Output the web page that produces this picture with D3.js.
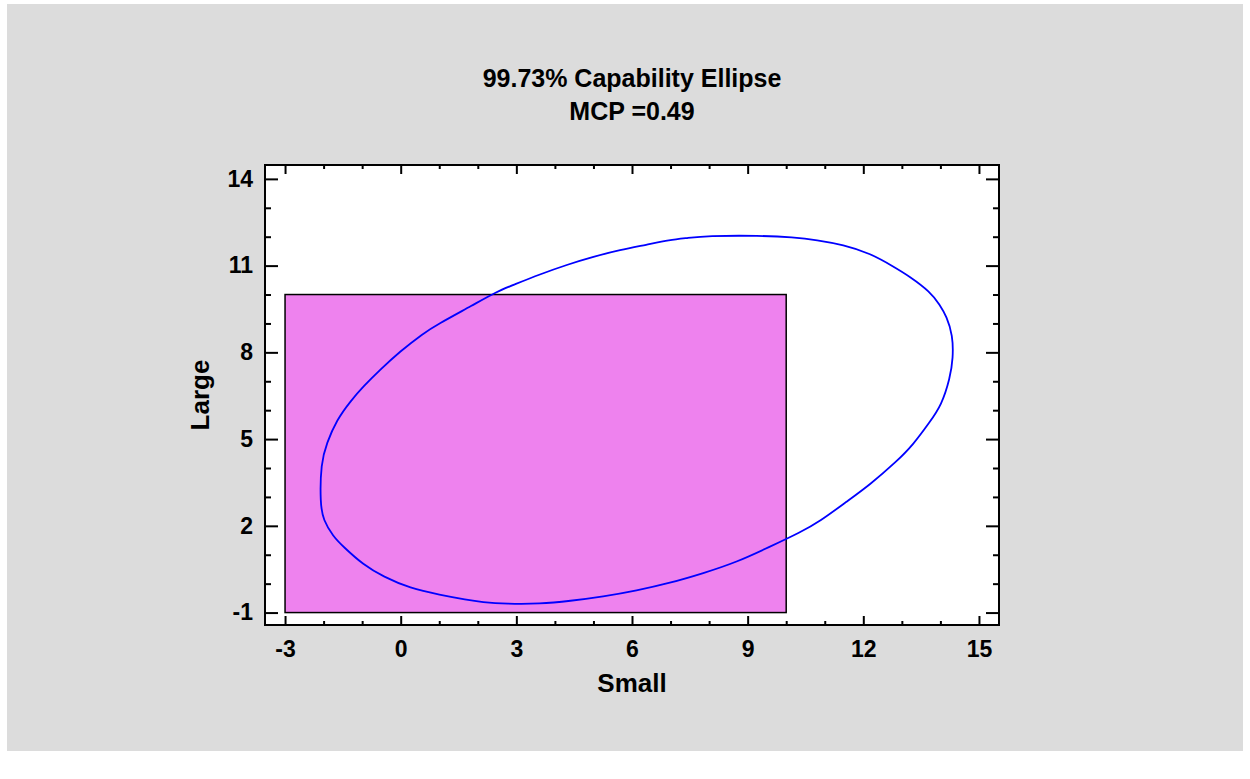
<!DOCTYPE html>
<html>
<head>
<meta charset="utf-8">
<script src="https://cdn.jsdelivr.net/npm/d3@7"></script>
<style>
  body { margin: 0; background: #fff; }
  svg { display: block; font-family: "Liberation Sans", Arial, sans-serif; font-weight: bold; }
</style>
</head>
<body>
<svg id="chart" width="1250" height="779"></svg>
<script>
// tick labels
const xTicks = [-3, 0, 3, 6, 9, 12, 15];
const yTicks = [-1, 2, 5, 8, 11, 14];
const xMinor = [-2, -1, 1, 2, 4, 5, 7, 8, 10, 11, 13, 14];
const yMinor = [0, 1, 3, 4, 6, 7, 9, 10, 12, 13];

// spec limits (Small: LSL, USL; Large: LSL, USL)
const specSmall = [-3, 10];
const specLarge = [-1, 10];

// ellipse outline
const ellipseSmall = [-2.09, -2.07, -1.92, -1.66, -1.31, -0.97, -0.54, -0.02, 0.59, 0.93,
  1.88, 2.49, 2.92, 3.61, 4.31, 5.00, 5.69, 6.38, 6.98, 7.42,
  7.94, 9.32, 10.18, 10.79, 11.48, 12.17, 12.78, 13.21, 13.73, 13.99,
  14.16, 14.32, 14.33, 14.25, 14.03, 13.73, 13.29, 12.86, 12.17, 11.57,
  10.87, 10.36, 9.58, 8.71, 7.85, 6.98, 6.12, 5.25, 4.39, 3.61,
  2.75, 2.10, 1.71, 1.02, 0.24, -0.45, -0.97, -1.49, -1.75, -2.01];
const ellipseLarge = [2.78, 4.17, 4.86, 5.66, 6.30, 6.82, 7.39, 8.03, 8.66, 8.95,
  9.64, 10.10, 10.33, 10.70, 11.03, 11.31, 11.54, 11.72, 11.89, 11.95,
  12.03, 12.04, 11.98, 11.89, 11.72, 11.43, 10.97, 10.62, 10.10, 9.64,
  9.24, 8.60, 7.80, 7.11, 6.18, 5.60, 4.80, 4.22, 3.42, 2.84,
  2.15, 1.77, 1.28, 0.74, 0.36, 0.02, -0.24, -0.45, -0.60, -0.70,
  -0.70, -0.64, -0.56, -0.39, -0.16, 0.24, 0.65, 1.28, 1.63, 2.20];

const svg = d3.select("#chart");

// grey panel
svg.append("rect")
    .attr("x", 7).attr("y", 4)
    .attr("width", 1236).attr("height", 747)
    .attr("fill", "#dcdcdc");

const plotL = 265, plotR = 999, plotT = 165, plotB = 625;

const x = d3.scaleLinear().domain([-3.52, 15.52]).range([plotL, plotR]);
const y = d3.scaleLinear().domain([-1.43, 14.48]).range([plotB, plotT]);

// plot area
svg.append("rect")
    .attr("x", plotL).attr("y", plotT)
    .attr("width", plotR - plotL).attr("height", plotB - plotT)
    .attr("fill", "#fff");

// spec rectangle
svg.append("rect")
    .attr("x", x(specSmall[0]))
    .attr("y", y(specLarge[1]))
    .attr("width", x(specSmall[1]) - x(specSmall[0]))
    .attr("height", y(specLarge[0]) - y(specLarge[1]))
    .attr("fill", "#ee82ee")
    .attr("stroke", "#000")
    .attr("stroke-width", 1.5);

// ellipse
const pts = ellipseSmall.map((d, i) => [d, ellipseLarge[i]]);
const line = d3.line()
    .x(d => x(d[0]))
    .y(d => y(d[1]))
    .curve(d3.curveBasisClosed);

svg.append("path")
    .attr("d", line(pts))
    .attr("fill", "none")
    .attr("stroke", "#0000ff")
    .attr("stroke-width", 1.8);

// axes
function styleAxis(g) {
    g.select(".domain").remove();
    g.selectAll(".tick line").attr("stroke", "#000").attr("stroke-width", 2);
    g.selectAll(".tick text")
        .attr("fill", "#000")
        .style("font-size", "23px")
        .style("font-family", "'Liberation Sans', Arial, sans-serif")
        .style("font-weight", "bold");
}

const fmt = d => String(d);

svg.append("g")
    .attr("transform", `translate(0,${plotB})`)
    .call(d3.axisBottom(x).tickValues(xTicks).tickFormat(fmt).tickSize(-9).tickPadding(16))
    .call(styleAxis);
svg.append("g")
    .attr("transform", `translate(0,${plotB})`)
    .call(d3.axisBottom(x).tickValues(xMinor).tickSize(-4).tickFormat(""))
    .call(styleAxis);
svg.append("g")
    .attr("transform", `translate(0,${plotT})`)
    .call(d3.axisTop(x).tickValues(xTicks).tickSize(-9).tickFormat(""))
    .call(styleAxis);
svg.append("g")
    .attr("transform", `translate(0,${plotT})`)
    .call(d3.axisTop(x).tickValues(xMinor).tickSize(-4).tickFormat(""))
    .call(styleAxis);

svg.append("g")
    .attr("transform", `translate(${plotL},0)`)
    .call(d3.axisLeft(y).tickValues(yTicks).tickFormat(fmt).tickSize(-13).tickPadding(12))
    .call(styleAxis);
svg.append("g")
    .attr("transform", `translate(${plotL},0)`)
    .call(d3.axisLeft(y).tickValues(yMinor).tickSize(-6).tickFormat(""))
    .call(styleAxis);
svg.append("g")
    .attr("transform", `translate(${plotR},0)`)
    .call(d3.axisRight(y).tickValues(yTicks).tickSize(-13).tickFormat(""))
    .call(styleAxis);
svg.append("g")
    .attr("transform", `translate(${plotR},0)`)
    .call(d3.axisRight(y).tickValues(yMinor).tickSize(-6).tickFormat(""))
    .call(styleAxis);

// frame
svg.append("rect")
    .attr("x", plotL).attr("y", plotT)
    .attr("width", plotR - plotL).attr("height", plotB - plotT)
    .attr("fill", "none")
    .attr("stroke", "#000")
    .attr("stroke-width", 2);

// titles
const cx = (plotL + plotR) / 2;
svg.append("text")
    .attr("x", cx).attr("y", 87)
    .attr("text-anchor", "middle")
    .style("font-size", "25px")
    .text("99.73% Capability Ellipse");
svg.append("text")
    .attr("x", cx).attr("y", 120)
    .attr("text-anchor", "middle")
    .style("font-size", "25px")
    .text("MCP =0.49");

svg.append("text")
    .attr("x", cx).attr("y", 692)
    .attr("text-anchor", "middle")
    .style("font-size", "26px")
    .text("Small");

svg.append("text")
    .attr("transform", `translate(209,${(plotT + plotB) / 2}) rotate(-90)`)
    .attr("text-anchor", "middle")
    .style("font-size", "26px")
    .text("Large");
</script>
</body>
</html>
